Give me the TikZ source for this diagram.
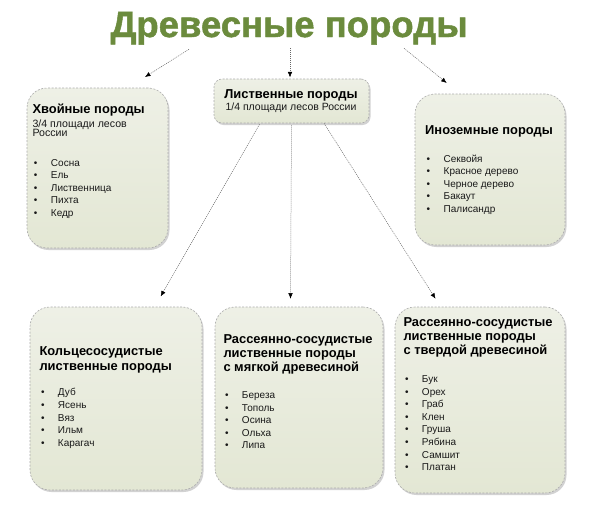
\documentclass[tikz,border=0pt]{standalone}
\usepackage{fontspec}
\setmainfont{Liberation Sans}
\newfontfamily\titolofont{Liberation Sans}[BoldFeatures={FakeBold=1.3}]
\usetikzlibrary{arrows.meta,shadows}

\definecolor{verdetitolo}{HTML}{6B8B3D}
\definecolor{boxalto}{HTML}{EEF0E6}
\definecolor{boxbasso}{HTML}{E3E7D4}

\newcommand{\voce}[1]{\makebox[18.5pt][l]{\hspace{1.5pt}\textbullet}#1}
\newcommand{\titbox}[1]{{\color{black}\bfseries\fontsize{12.9}{14.5}\selectfont #1}}

\begin{document}
\begin{tikzpicture}[x=1pt,y=-1pt,
    riquadro/.style={draw=gray!65,dash pattern=on 2pt off 1.5pt,line width=0.6pt,
      rounded corners=20pt,top color=boxalto,bottom color=boxbasso,inner sep=0pt,
      drop shadow={opacity=0.35,shadow xshift=1.5pt,shadow yshift=-2pt}},
    testo/.style={anchor=north west,inner sep=0pt,align=left,
      font=\fontsize{10}{12.6}\selectfont,text=black!90},
    freccia/.style={draw=gray!80!black,dash pattern=on 1pt off 1pt,line width=0.5pt,
      -{Latex[length=5.5pt,width=4.5pt,color=black]}}]
    \useasboundingbox[fill=white] (0,0) rectangle (600,514);

    %titolo
    \node[anchor=base,inner sep=0pt,text=verdetitolo,font=\titolofont\fontsize{36.5}{40}\selectfont\bfseries] (titolo) at (289,37) {Древесные породы};

    %disegna i riquadri
    \node[riquadro,minimum width=141pt,minimum height=160pt] (hvoi) at (97.5,168) {};
    \node[riquadro,rounded corners=8pt,minimum width=155pt,minimum height=44pt] (lista) at (291.5,101) {};
    \node[riquadro,minimum width=150pt,minimum height=151pt] (ino) at (490,169.5) {};
    \node[riquadro,minimum width=172pt,minimum height=183pt] (kolc) at (116,398.5) {};
    \node[riquadro,minimum width=168pt,minimum height=181pt] (myag) at (299,397.5) {};
    \node[riquadro,minimum width=170pt,minimum height=186pt] (tverd) at (480,400) {};

    %testi dei riquadri
    \node[testo] (hvoi-testo) at (32.3,104) {\titbox{Хвойные породы}\\[0.8pt]
      {\fontsize{10.6}{12.6}\selectfont 3/4 площади лесов}\\[-3pt]
      {\fontsize{10.6}{12.6}\selectfont России}\\[16.7pt]
      \voce{Сосна}\\ \voce{Ель}\\ \voce{Лиственница}\\ \voce{Пихта}\\ \voce{Кедр}};
    \node[testo,anchor=north,align=center] (lista-testo) at (291,89) {\titbox{Лиственные породы}\\
      {\fontsize{10.5}{12.6}\selectfont 1/4 площади лесов России}};
    \node[testo] (ino-testo) at (425,125.7) {\titbox{Иноземные породы}\\[14.7pt]
      \voce{Секвойя}\\ \voce{Красное дерево}\\ \voce{Черное дерево}\\ \voce{Бакаут}\\ \voce{Палисандр}};
    \node[testo] (kolc-testo) at (39.3,346.7) {\titbox{Кольцесосудистые}\\[2.5pt]
      \titbox{лиственные породы}\\[12.4pt]
      \voce{Дуб}\\ \voce{Ясень}\\ \voce{Вяз}\\ \voce{Ильм}\\ \voce{Карагач}};
    \node[testo] (myag-testo) at (223.3,334) {\titbox{Рассеянно-сосудистые}\\[1.8pt]
      \titbox{лиственные породы}\\[1.8pt] \titbox{с мягкой древесиной}\\[14pt]
      \voce{Береза}\\ \voce{Тополь}\\ \voce{Осина}\\ \voce{Ольха}\\ \voce{Липа}};
    \node[testo] (tverd-testo) at (403.3,317.4) {\titbox{Рассеянно-сосудистые}\\[1.5pt]
      \titbox{лиственные породы}\\[1.8pt] \titbox{с твердой древесиной}\\[15pt]
      \voce{Бук}\\ \voce{Орех}\\ \voce{Граб}\\ \voce{Клен}\\ \voce{Груша}\\ \voce{Рябина}\\ \voce{Самшит}\\ \voce{Платан}};

    %frecce
    \draw[freccia] ([shift={(-100,12.3)}]titolo.base) -- ([shift={(47.5,-10.7)}]hvoi.north);
    \draw[freccia] ([shift={(1,11.3)}]titolo.base) -- ([shift={(-1.5,-1.3)}]lista.north);
    \draw[freccia] ([shift={(115,11.3)}]titolo.base) -- ([shift={(-43.3,-10.7)}]ino.north);
    \draw[freccia] ([shift={(-32,1)}]lista.south) -- ([shift={(44.7,-10.3)}]kolc.north);
    \draw[freccia] ([shift={(0,2)}]lista.south) -- ([shift={(-8.5,-8)}]myag.north);
    \draw[freccia] ([shift={(32.5,0)}]lista.south) -- ([shift={(-44.5,-8)}]tverd.north);
\end{tikzpicture}
\end{document}
